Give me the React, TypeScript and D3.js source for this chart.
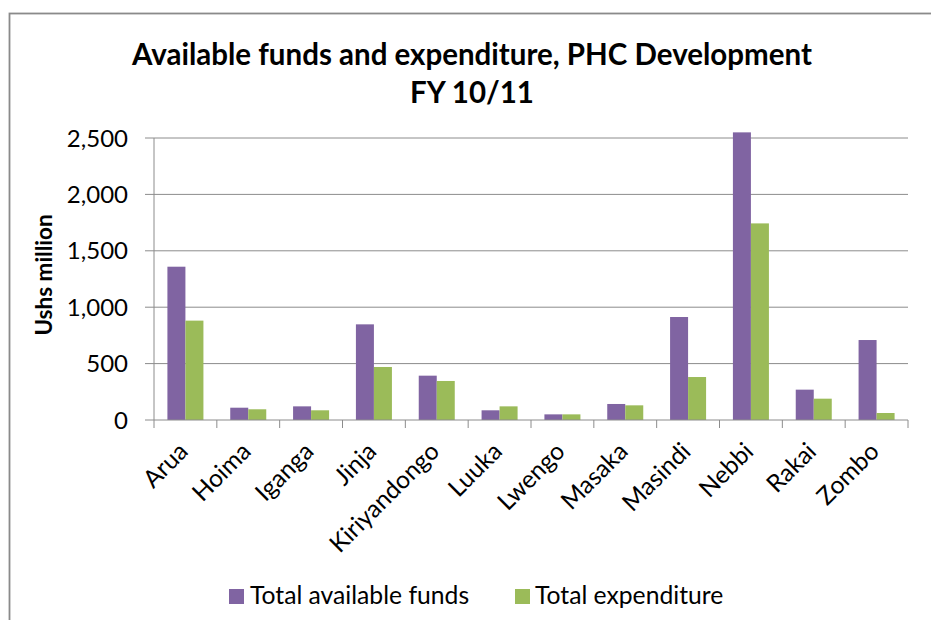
import React from "react";
import * as d3 from "d3";

const categories = ["Arua", "Hoima", "Iganga", "Jinja", "Kiriyandongo", "Luuka", "Lwengo", "Masaka", "Masindi", "Nebbi", "Rakai", "Zombo"];
const availableFunds = [1359, 109, 121, 848, 393, 86, 50, 142, 913, 2550, 269, 709];
const expenditure = [881, 95, 86, 470, 346, 121, 50, 130, 381, 1743, 189, 62];
const seriesNames = ["Total available funds", "Total expenditure"];
const yTicks = [0, 500, 1000, 1500, 2000, 2500];
const titleLines = ["Available funds and expenditure, PHC Development", "FY 10/11"];
const yAxisTitle = "Ushs million";

const W = 931;
const H = 620;
const FONT = "Lato, 'Open Sans', sans-serif";
const colors = ["#8064A2", "#9BBB59"];

export default function App() {
  const left = 154;
  const right = 908;
  const top = 138;
  const bottom = 420;

  const x0 = d3.scaleBand<string>().domain(categories).range([left, right]).paddingInner(0).paddingOuter(0);
  const x1 = d3.scaleBand<string>().domain(seriesNames).range([0, x0.bandwidth()]).paddingInner(0).paddingOuter(0.745);
  const y = d3.scaleLinear().domain([0, 2500]).range([bottom, top]);
  const fmt = d3.format(",");
  const seriesValues = [availableFunds, expenditure];

  const boundaries = categories.map((c) => x0(c) as number).concat([right]);

  return (
    <svg width={W} height={H} style={{ position: "absolute", left: 0, top: 0, background: "#fff" }}>
      <rect x={0} y={0} width={W} height={H} fill="#fff" />
      <rect x={9.5} y={13.5} width={940} height={640} fill="#fff" stroke="#8a8a8a" strokeWidth={1.8} />
      {titleLines.map((t, i) => (
        <text key={i} x={472} y={65 + i * 38} textAnchor="middle" fontFamily={FONT} fontWeight="bold" fontSize={29.5} fill="#000">
          {t}
        </text>
      ))}
      {yTicks.map((t) => (
        <g key={t}>
          {t > 0 && <line x1={left} x2={right} y1={y(t)} y2={y(t)} stroke="#8c8c8c" strokeWidth={1} />}
          <line x1={left - 9} x2={left} y1={y(t)} y2={y(t)} stroke="#8c8c8c" strokeWidth={1} />
          <text x={128} y={y(t)} dy="0.36em" textAnchor="end" fontFamily={FONT} fontSize={24} fill="#000">
            {fmt(t)}
          </text>
        </g>
      ))}
      {categories.map((c, ci) => (
        <g key={c} transform={`translate(${x0(c)},0)`}>
          {seriesNames.map((s, si) => {
            const v = seriesValues[si][ci];
            return (
              <rect key={s} x={x1(s)} y={y(v)} width={x1.bandwidth()} height={y(0) - y(v)} fill={colors[si]} />
            );
          })}
        </g>
      ))}
      <line x1={left} x2={left} y1={top} y2={bottom} stroke="#8c8c8c" strokeWidth={1} />
      <line x1={left} x2={right} y1={bottom} y2={bottom} stroke="#8c8c8c" strokeWidth={1} />
      {boundaries.map((bx, i) => (
        <line key={i} x1={bx} x2={bx} y1={bottom} y2={bottom + 8} stroke="#8c8c8c" strokeWidth={1} />
      ))}
      {categories.map((c) => {
        const cx = (x0(c) as number) + x0.bandwidth() / 2;
        return (
          <text key={c} transform={`translate(${cx + 4},${453}) rotate(-45)`} textAnchor="end" fontFamily={FONT} fontSize={24.5} fill="#000">
            {c}
          </text>
        );
      })}
      <text transform={`translate(52,275) rotate(-90)`} textAnchor="middle" fontFamily={FONT} fontWeight="bold" fontSize={22.5} fill="#000">
        {yAxisTitle}
      </text>
      <rect x={229} y={589} width={15} height={15} fill={colors[0]} />
      <text x={250} y={604} fontFamily={FONT} fontSize={24.7} fill="#000">{seriesNames[0]}</text>
      <rect x={515} y={589} width={15} height={15} fill={colors[1]} />
      <text x={535} y={604} fontFamily={FONT} fontSize={24.7} fill="#000">{seriesNames[1]}</text>
    </svg>
  );
}
